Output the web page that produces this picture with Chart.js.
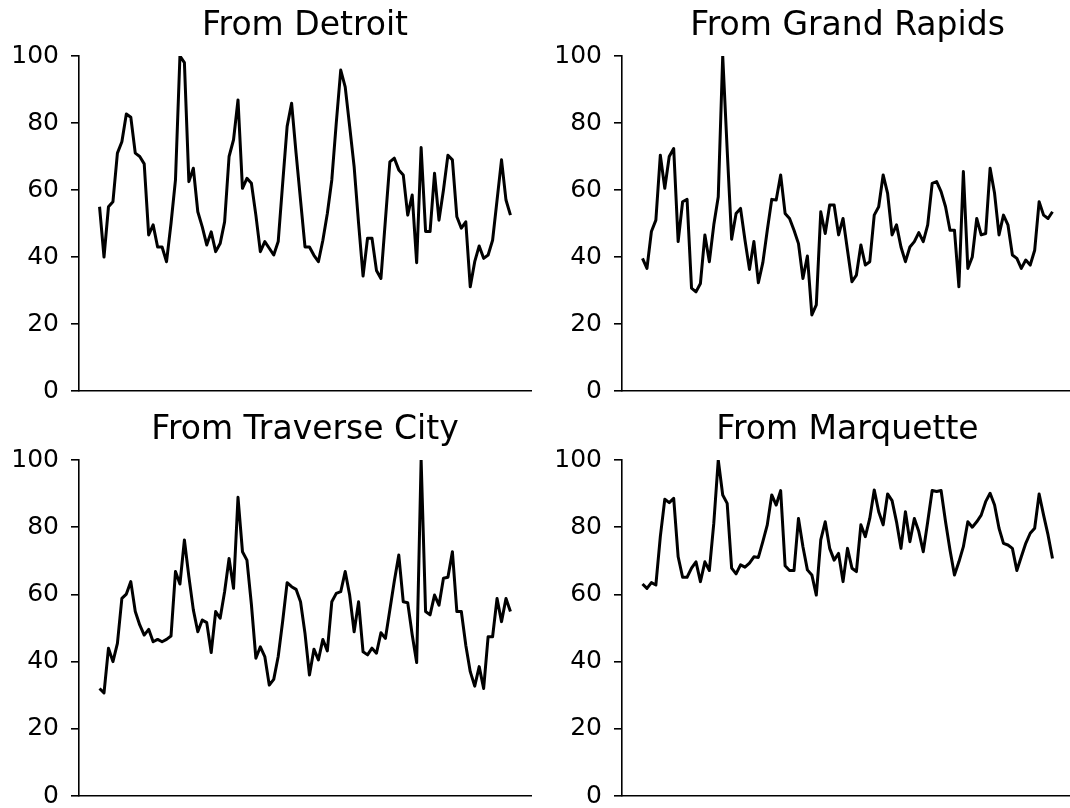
<!DOCTYPE html>
<html>
<head>
<meta charset="utf-8">
<script src="https://cdn.jsdelivr.net/npm/chart.js@4.4.0/dist/chart.umd.min.js"></script>
<style>
  html, body { margin: 0; padding: 0; background: #fff; overflow: hidden; }
  #wrap { position: relative; width: 1070px; height: 808px; overflow: hidden; }
  canvas { position: absolute; }
</style>
</head>
<body>
<div id="wrap">
  <canvas id="c0" width="540" height="404" style="left:0;top:0"></canvas>
  <canvas id="c1" width="540" height="404" style="left:540px;top:0"></canvas>
  <canvas id="c2" width="540" height="404" style="left:0;top:404px"></canvas>
  <canvas id="c3" width="540" height="404" style="left:540px;top:404px"></canvas>
</div>
<script>
// monthly values, one list per origin city
const detroit = [55, 40, 55, 56.5, 71, 74.4, 82.7, 81.7, 71, 70, 67.8, 46.6, 49.6, 43, 43, 38.6, 50, 63, 100, 98,
  62.5, 66.5, 53.5, 49, 43.6, 47.5, 41.6, 44, 50.5, 70, 75, 86.9, 60.5, 63.5, 62, 52.5, 41.6, 44.6, 42.6, 40.6,
  44.6, 62, 79, 85.9, 71, 57, 43, 43, 40.5, 38.6, 45, 53, 63, 80, 95.8, 90.8, 79, 67, 50, 34.3,
  45.6, 45.6, 36, 33.6, 51, 68.4, 69.5, 66, 64.5, 52.5, 58.5, 38.3, 72.7, 47.6, 47.6, 65, 51, 60, 70.4, 69,
  52, 48.6, 50.5, 31.1, 38.6, 43.3, 39.6, 40.6, 45, 57, 69, 57, 52.5];
const grandRapids = [39.6, 36.6, 47.6, 51, 70.4, 60.5, 70, 72.4, 44.6, 56.5, 57.2, 30.7, 29.6, 32.1, 46.6, 38.6, 49.6, 58, 100, 72,
  45.3, 53, 54.5, 45, 36.3, 44.6, 32.3, 38.3, 48, 57.2, 57, 64.5, 53, 51.5, 48, 44, 33.6, 40.3, 22.7, 25.7,
  53.5, 47, 55.5, 55.5, 46.6, 51.5, 42, 32.6, 34.6, 43.6, 37.6, 38.6, 52.5, 55, 64.5, 59, 46.6, 49.6, 43, 38.6,
  43, 44.6, 47.3, 44.6, 49.6, 62, 62.5, 59.5, 55, 48, 48, 31.1, 65.5, 36.6, 40, 51.5, 46.6, 47, 66.5, 59,
  46.6, 52.5, 49.6, 40.6, 39.6, 36.6, 39.1, 37.6, 42, 56.5, 52.5, 51.5, 53.5];
const traverseCity = [32, 30.7, 44, 40, 45.4, 58.8, 60.1, 63.8, 54.9, 50.9, 47.9, 49.6, 45.9, 46.6, 45.9, 46.6, 47.6, 66.8, 63.1, 76.2,
  65.3, 55.4, 48.9, 52.4, 51.6, 42.7, 54.9, 52.9, 60.8, 70.7, 61.8, 88.9, 72.7, 70.2, 57, 41, 44.4, 41.5, 33, 34.7,
  41.5, 52, 63.5, 62.3, 61.5, 57.8, 48.4, 36, 43.7, 40.5, 46.6, 43.2, 57.8, 60.3, 60.8, 66.8, 59.8, 48.9, 57.8, 42.9,
  42, 44, 42.5, 48.6, 46.9, 55.4, 64, 71.7, 57.8, 57.5, 48, 39.7, 100, 54.9, 53.9, 59.8, 56.8, 64.8, 65.1, 72.7,
  54.9, 54.9, 44.9, 37, 32.7, 38.5, 32, 47.4, 47.4, 58.8, 51.9, 58.8, 54.9];
const marquette = [63.1, 61.8, 63.5, 62.8, 77.2, 88.3, 87.3, 88.6, 71.2, 65.1, 65.1, 67.8, 69.7, 63.8, 69.7, 67.1, 81.2, 100, 89.6, 87.1,
  67.8, 66.1, 68.8, 68.1, 69.3, 71.2, 71, 75.7, 80.7, 89.6, 86.6, 90.9, 68.5, 67.1, 67.1, 82.6, 74.2, 67.3, 65.8, 59.8,
  76.2, 81.6, 73.7, 70.2, 72.2, 63.8, 73.7, 67.8, 66.8, 80.7, 77.2, 82.6, 91.1, 84.6, 80.7, 89.9, 87.9, 81.6, 73.7, 84.6,
  75.7, 82.6, 78.7, 72.7, 81.6, 90.9, 90.6, 90.9, 81.6, 73.2, 65.8, 69.7, 74.2, 81.6, 80, 81.6, 83.6, 87.6, 90.1, 86.6,
  79.7, 75.2, 74.7, 73.7, 67.1, 71.2, 75.2, 78.2, 79.7, 89.9, 83.6, 77.7, 70.7];

const titles = ['From Detroit', 'From Grand Rapids', 'From Traverse City', 'From Marquette'];
const yTicks = [0, 20, 40, 60, 80, 100];

const FONT = "'DejaVu Sans', sans-serif";

function panel(id, title, values, yWidth, padRight, chartBottom) {
  const n = values.length;
  const margin = (n - 1) * 0.05;   // matplotlib style 5% x margins
  return new Chart(document.getElementById(id), {
    type: 'line',
    data: {
      datasets: [{
        data: values.map((v, i) => ({ x: i, y: v })),
        borderColor: '#000',
        borderWidth: 3,
        borderJoinStyle: 'round',
        pointRadius: 0,
        tension: 0,
        fill: false,
        clip: 0,
      }],
    },
    options: {
      responsive: false,
      animation: false,
      events: [],
      layout: { padding: { left: 0, right: padRight, top: 0, bottom: 0 } },
      plugins: {
        legend: { display: false },
        tooltip: { enabled: false },
        title: {
          display: true,
          text: title,
          color: '#000',
          fullSize: false,
          font: { family: FONT, size: 33, weight: 'normal', lineHeight: 1.2 },
          padding: { top: 7, bottom: 9.4 },
        },
      },
      scales: {
        x: {
          type: 'linear',
          min: -margin,
          max: n - 1 + margin,
          ticks: { display: false },
          grid: { display: false, drawTicks: false },
          border: { color: '#000', width: 1.6 },
          afterFit: s => { s.height = 404 - chartBottom; },
        },
        y: {
          min: 0,
          max: 100,
          afterBuildTicks: s => { s.ticks = yTicks.map(v => ({ value: v })); },
          ticks: {
            color: '#000',
            padding: 12,
            font: { family: FONT, size: 25, lineHeight: 0.9 },
          },
          grid: { drawOnChartArea: false, drawTicks: true, tickLength: 8, color: '#000', lineWidth: 1.6 },
          border: { color: '#000', width: 1.6 },
          afterFit: s => {
            s.width = yWidth;
            // keep the end labels from pushing the plot area in
            s.paddingTop = 0;
            s.paddingBottom = 0;
          },
        },
      },
    },
  });
}

panel('c0', titles[0], detroit, 79, 9, 391);
panel('c1', titles[1], grandRapids, 82, 7, 391);
panel('c2', titles[2], traverseCity, 79, 9, 392);
panel('c3', titles[3], marquette, 82, 7, 392);
</script>
</body>
</html>
